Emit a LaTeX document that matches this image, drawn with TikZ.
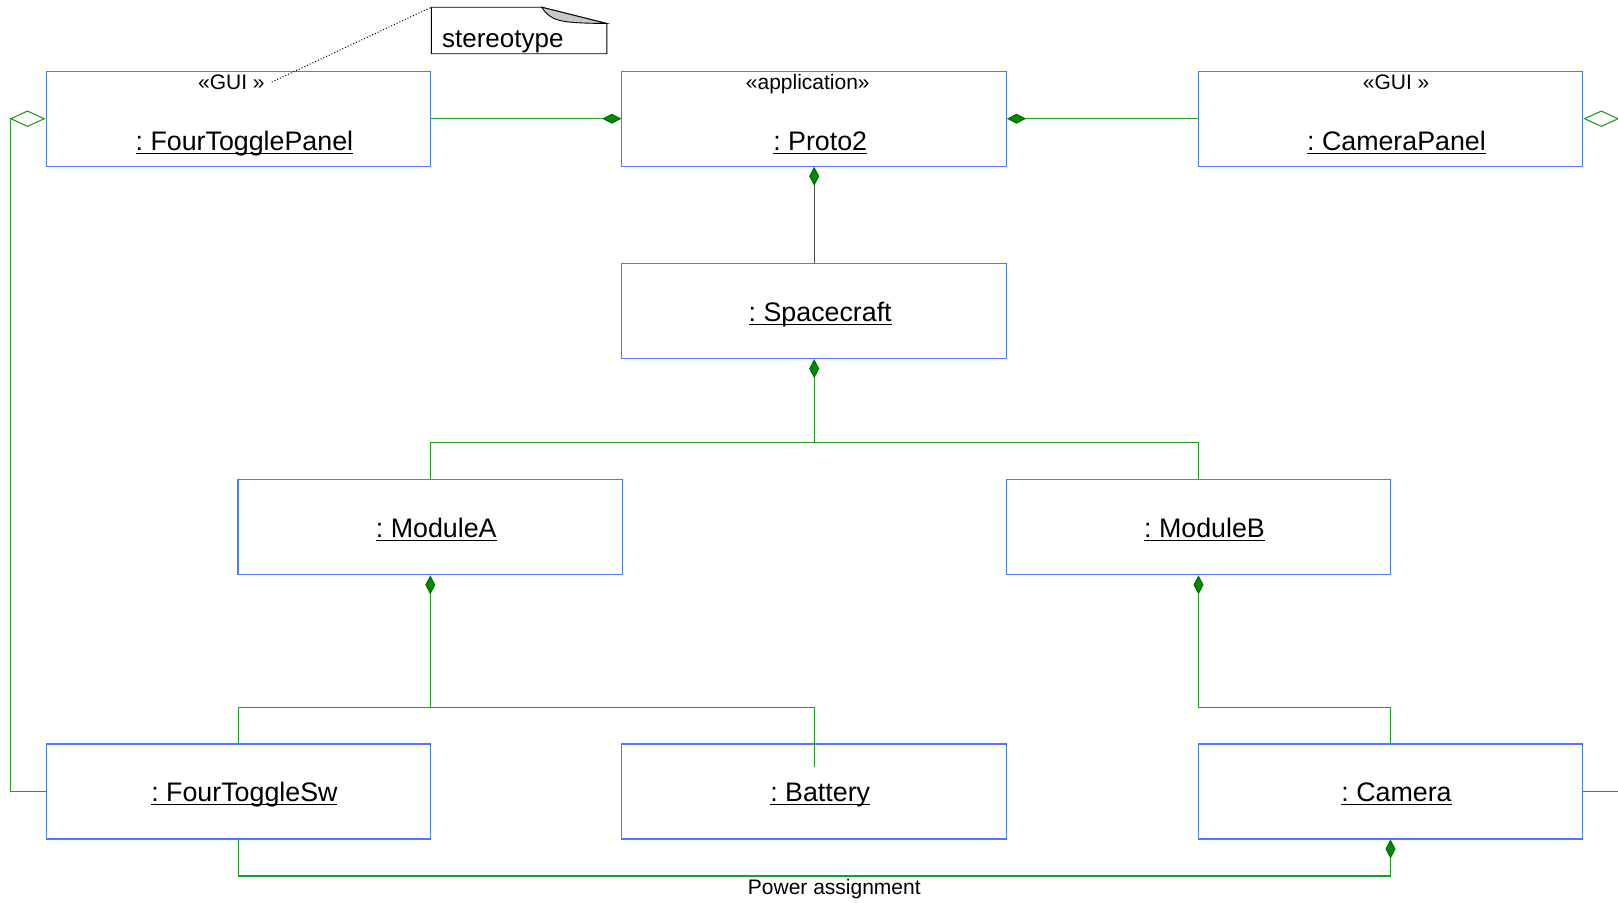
\documentclass[tikz,border=0pt]{standalone}
\usepackage{fontspec}
\setmainfont{Liberation Sans}
\usetikzlibrary{arrows.meta,calc}
\frenchspacing

\definecolor{boxblue}{HTML}{4A7BFF}
\definecolor{linkgreen}{HTML}{1E9E1E}
\definecolor{diagreen}{HTML}{008A00}
\definecolor{foldgray}{HTML}{C8C8C8}

% object name with a fixed-depth underline (crosses descenders)
\newcommand\objname[1]{\setbox0\hbox{#1}\rlap{\rule[-1.7pt]{\wd0}{0.6pt}}\box0}

\tikzset{
  objbox/.style={draw=boxblue, line width=0.55pt, minimum width=192.3pt,
                 minimum height=47.5pt, inner sep=0pt},
  namelbl/.style={anchor=base, font=\fontsize{13.4}{16}\selectfont, inner sep=0pt},
  sterlbl/.style={anchor=base, font=\fontsize{10.5}{12.6}\selectfont},
  conlbl/.style={anchor=base, font=\fontsize{10.5}{12.6}\selectfont, inner sep=0pt},
  notelbl/.style={anchor=base west, font=\fontsize{13}{15.6}\selectfont, inner sep=0pt},
  notebox/.style={draw=black, line width=0.45pt},
  notelink/.style={draw=black, line width=0.5pt, densely dotted},
  link/.style={draw=linkgreen, line width=0.55pt},
  comp/.style={link, -{Diamond[length=9.5pt,width=5pt,fill=diagreen,color=diagreen!80!black]}},
  aggr/.style={link, -{Diamond[length=18pt,width=8.25pt,fill=white]}},
}

\begin{document}
\begin{tikzpicture}[x=0.5pt,y=-0.5pt]
\useasboundingbox (0,0) rectangle (1618,902);

% object boxes
\node[objbox] (ftp)    at (238.4,118.7) {};
\node[objbox] (proto)  at (814.2,118.7) {};
\node[objbox] (campan) at (1390.5,118.7) {};
\node[objbox] (craft)  at (814.2,311.1) {};
\node[objbox] (moda)   at (430.3,527.3) {};
\node[objbox] (modb)   at (1198.5,527.3) {};
\node[objbox] (ftsw)   at (238.4,791.5) {};
\node[objbox] (batt)   at (814.2,791.5) {};
\node[objbox] (cam)    at (1390.5,791.5) {};

% stereotypes and object names
\node[sterlbl] (ftpS)    at ([xshift=-3.5pt,yshift=14.7pt]ftp.center) {«GUI »};
\node[sterlbl] (protoS)  at ([xshift=-3.2pt,yshift=14.7pt]proto.center) {«application»};
\node[sterlbl] (campanS) at ([xshift=2.8pt,yshift=14.7pt]campan.center) {«GUI »};

\node[namelbl] (ftpN)    at ([xshift=3pt,yshift=-16pt]ftp.center) {\objname{: FourTogglePanel}};
\node[namelbl] (protoN)  at ([xshift=3pt,yshift=-16pt]proto.center) {\objname{: Proto2}};
\node[namelbl] (campanN) at ([xshift=3pt,yshift=-16pt]campan.center) {\objname{: CameraPanel}};
\node[namelbl] (craftN)  at ([xshift=3pt,yshift=-5.2pt]craft.center) {\objname{: Spacecraft}};
\node[namelbl] (modaN)   at ([xshift=3pt,yshift=-5.2pt]moda.center) {\objname{: ModuleA}};
\node[namelbl] (modbN)   at ([xshift=3pt,yshift=-5.2pt]modb.center) {\objname{: ModuleB}};
\node[namelbl] (ftswN)   at ([xshift=3pt,yshift=-5.2pt]ftsw.center) {\objname{: FourToggleSw}};
\node[namelbl] (battN)   at ([xshift=3pt,yshift=-5.2pt]batt.center) {\objname{: Battery}};
\node[namelbl] (camN)    at ([xshift=3pt,yshift=-5.2pt]cam.center) {\objname{: Camera}};

% note with folded corner
\coordinate (notecorner) at (431.3,7.2);
\draw[notebox] (notecorner) -- (541.7,7.2) -- (606.8,23.5) -- (606.8,53.7) -- (431.3,53.7) -- cycle;
\filldraw[notebox, fill=foldgray] (541.7,7.2) .. controls (551,21) and (558,23) .. (606.8,23.5) -- cycle;
\node[notelbl] (note) at (441.7,47.5) {stereotype};
\draw[notelink] (ftpS.east) -- (notecorner);

% compositions into Proto2
\draw[comp] (ftp.east) -- (proto.west);
\draw[comp] (campan.west) -- (proto.east);
\draw[comp, draw=black!70] (craft.north) -- (proto.south);

% Spacecraft parts
\coordinate (craftbus) at (814.2,442.7);
\draw[comp] (moda.north) |- (craftbus) -- (craft.south);
\draw[link] (modb.north) |- (craftbus);

% ModuleA parts
\coordinate (modabus) at (430.3,707.9);
\coordinate (battend) at (814.2,766.7);
\draw[comp] (ftsw.north) |- (modabus) -- (moda.south);
\draw[link] (modabus) -| (battend);

% ModuleB parts
\coordinate (modbbus) at (1198.5,707.9);
\draw[comp] (cam.north) |- (modbbus) -- (modb.south);

% aggregations of the GUI panels
\coordinate (leftbus) at (10.7,791.5);
\draw[aggr] (ftsw.west) -- (leftbus) |- (ftp.west);
\coordinate (rightedgeA) at (1632,118.7);
\draw[aggr] (rightedgeA) -- (campan.east);
\coordinate (rightedgeB) at (1625,791.5);
\draw[link] (cam.east) -- (rightedgeB);

% power assignment
\coordinate (pwrbus) at (238.4,876);
\draw[comp] (ftsw.south) -- (pwrbus) -| (cam.south);
\node[conlbl] (pwrlbl) at (834.3,894.7) {Power assignment};

\end{tikzpicture}
\end{document}
